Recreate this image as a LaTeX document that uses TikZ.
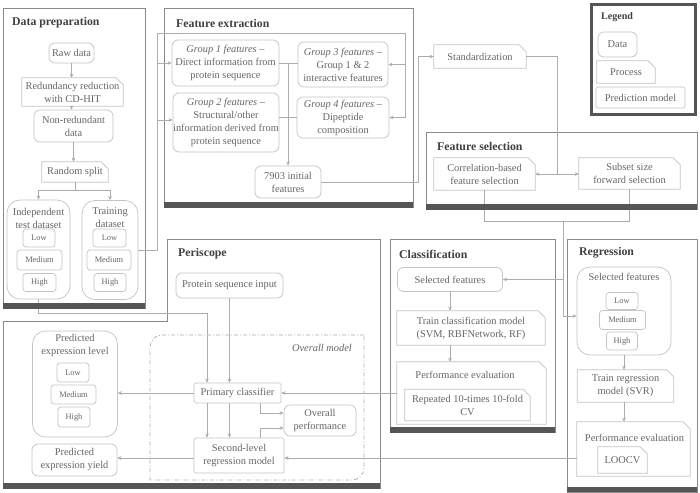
\documentclass[tikz,border=0pt]{standalone}
\usepackage{fontspec}
\setmainfont{Liberation Serif}
\usetikzlibrary{arrows.meta}
\definecolor{txtc}{HTML}{666666}
\definecolor{titc}{HTML}{404040}
\definecolor{boxc}{HTML}{C4C4C4}
\definecolor{conc}{HTML}{ADADAD}
\definecolor{panc}{HTML}{8A8A8A}
\definecolor{barc}{HTML}{555555}
\newcommand\fBody{\fontsize{10.4}{13}\selectfont}
\newcommand\fSmall{\fontsize{8.4}{10}\selectfont}
\newcommand\fTitle{\fontsize{11.8}{14}\selectfont\bfseries}
\newcommand\fLeg{\fontsize{10}{12}\selectfont\bfseries}
\begin{document}
\begin{tikzpicture}[x=1pt,y=-1pt,
  base/.style={align=center, text=txtc, font=\fBody, inner sep=0pt},
  data/.style={base, draw=boxc, line width=0.7pt, rounded corners=6pt},
  big/.style={base, draw=boxc, line width=0.7pt, rounded corners=13pt},
  small/.style={base, draw=boxc, line width=0.7pt, rounded corners=3pt, font=\fSmall},
  pred/.style={base, draw=boxc, line width=0.7pt, rounded corners=1.5pt},
  proc/.style={base, append after command={\pgfextra{\draw[draw=boxc, line width=0.7pt] (\tikzlastnode.south west) -- (\tikzlastnode.north west) -- ([xshift=-7pt]\tikzlastnode.north east) -- ([yshift=-7pt]\tikzlastnode.north east) -- (\tikzlastnode.south east) -- cycle;}}},
  lbl/.style={align=center, text=txtc, font=\fBody, inner sep=0pt},
  ptitle/.style={anchor=west, text=titc, font=\fTitle, inner sep=0pt},
  panel/.style={draw=panc, fill=white, line width=0.7pt},
  bar/.style={fill=barc, draw=none},
  conn/.style={draw=conc, line width=0.7pt},
  arr/.style={conn, -{Stealth[length=4pt,width=3.6pt,inset=1.2pt]}},
]
\useasboundingbox (0,0) rectangle (700,492);

% ---------- panels ----------
\draw[panel] (3,8) rectangle (145,308);
\draw[panel] (164,8) rectangle (413,207);
\draw[panel] (426,132) rectangle (697,209);
\draw[panel] (390,239) rectangle (555,432);
\draw[panel] (567,239) rectangle (697,492);
\draw[panel] (167,239) -- (380,239) -- (380,488) -- (3,488) -- (3,321) -- (167,321) -- cycle;
\draw[draw=barc, line width=3pt, fill=white] (591.5,4.5) rectangle (695.5,114);

\node[ptitle] (t1) at (12,23) {Data preparation};
\node[ptitle] (t2) at (176,23) {Feature extraction};
\node[ptitle] (t3) at (437,146) {Feature selection};
\node[ptitle] (t4) at (178,254) {Periscope};
\node[ptitle] (t5) at (399,254) {Classification};
\node[ptitle] (t6) at (579,253) {Regression};
\node[anchor=west, text=titc, font=\fLeg, inner sep=0pt] (t7) at (601,17) {Legend};

% ---------- overall model region ----------
\draw[draw=conc, line width=0.7pt, dash pattern=on 4pt off 2pt on 1pt off 2pt]
  (364,335) -- (162,335) .. controls (155.4,335) and (150,340.4) .. (150,347)
  -- (150,480) -- (352,480) .. controls (358.6,480) and (364,474.6) .. (364,468) -- cycle;
\node[anchor=east, font=\fBody\itshape, text=txtc, inner sep=0pt] (omt) at (352,348) {Overall model};

% ---------- data preparation ----------
\node[data, minimum width=45pt, minimum height=20pt] (raw) at (71.5,53) {Raw data};
\node[proc, minimum width=101pt, minimum height=28pt] (red) at (72.5,92) {Redundancy reduction\\with CD-HIT};
\node[data, minimum width=79pt, minimum height=32pt] (nonred) at (73.5,126) {Non-redundant\\data};
\node[proc, minimum width=66pt, minimum height=20pt] (split) at (75,172) {Random split};
\node[big, minimum width=63pt, minimum height=99pt] (ind) at (38.5,249.5) {};
\node[lbl] (indt) at (38.5,218) {Independent\\test dataset};
\node[small, minimum width=32pt, minimum height=18pt] (il) at (39,238) {Low};
\node[small, minimum width=45pt, minimum height=20pt] (im) at (39.5,260) {Medium};
\node[small, minimum width=33pt, minimum height=18pt] (ih) at (39.5,282.5) {High};
\node[big, minimum width=56pt, minimum height=99pt] (train) at (110,250) {};
\node[lbl] (traint) at (110,218) {Training\\dataset};
\node[small, minimum width=33pt, minimum height=18pt] (tl) at (109.5,238) {Low};
\node[small, minimum width=44pt, minimum height=20pt] (tm) at (109,260) {Medium};
\node[small, minimum width=32pt, minimum height=18pt] (th) at (110,282.5) {High};

% ---------- feature extraction ----------
\node[data, minimum width=107pt, minimum height=46pt] (g1) at (225.5,63) {\textit{Group 1 features} --\\Direct information from\\protein sequence};
\node[data, minimum width=90pt, minimum height=45pt] (g3) at (343,64.5) {\textit{Group 3 features} --\\Group 1 \& 2\\interactive features};
\node[data, minimum width=106pt, minimum height=59pt] (g2) at (226,122.5) {\textit{Group 2 features} --\\Structural/other\\information derived from\\protein sequence};
\node[data, minimum width=92pt, minimum height=41pt] (g4) at (343,117.5) {\textit{Group 4 features} --\\Dipeptide\\composition};
\node[data, minimum width=66pt, minimum height=32pt] (init) at (288,182) {7903 initial\\features};

% ---------- standardization / selection ----------
\node[proc, minimum width=92pt, minimum height=23pt] (stand) at (480,56.5) {Standardization};
\node[proc, minimum width=101pt, minimum height=32pt] (corr) at (484.5,174) {Correlation-based\\feature selection};
\node[proc, minimum width=101pt, minimum height=31pt] (subset) at (629.5,173.5) {Subset size\\forward selection};

% ---------- legend ----------
\node[data, minimum width=39pt, minimum height=25pt] (lgd) at (617.5,44.5) {Data};
\node[proc, minimum width=58pt, minimum height=22pt] (lgp) at (626,72) {Process};
\node[pred, minimum width=89pt, minimum height=21pt] (lgm) at (640.5,97.5) {Prediction model};

% ---------- classification ----------
\node[data, minimum width=105pt, minimum height=24pt] (csel) at (450,279.5) {Selected features};
\node[proc, minimum width=148pt, minimum height=34pt] (ctrain) at (471,328) {Train classification model\\(SVM, RBFNetwork, RF)};
\node[proc, minimum width=149pt, minimum height=62pt] (cperf) at (471.5,393) {};
\node[lbl] (cperft) at (465,375) {Performance evaluation};
\node[proc, minimum width=125pt, minimum height=31pt] (crep) at (467.5,405) {Repeated 10-times 10-fold\\CV};

% ---------- regression ----------
\node[big, minimum width=94pt, minimum height=88pt] (rsel) at (624,311) {};
\node[lbl] (rselt) at (624,277) {Selected features};
\node[small, minimum width=32pt, minimum height=17pt] (rl) at (622,301) {Low};
\node[small, minimum width=46pt, minimum height=19pt] (rm) at (622.5,320) {Medium};
\node[small, minimum width=31pt, minimum height=18pt] (rh) at (622,341) {High};
\node[proc, minimum width=96pt, minimum height=32pt] (rtrain) at (625.5,386) {Train regression\\model (SVR)};
\node[proc, minimum width=113pt, minimum height=54pt] (rperf) at (633.5,449) {};
\node[lbl] (rperft) at (634.5,438) {Performance evaluation};
\node[proc, minimum width=49pt, minimum height=26pt] (loocv) at (622.5,460) {LOOCV};

% ---------- periscope ----------
\node[data, minimum width=107pt, minimum height=25pt] (psi) at (229.5,285.5) {Protein sequence input};
\node[pred, minimum width=87pt, minimum height=20pt] (prim) at (237.5,393) {Primary classifier};
\node[data, minimum width=72pt, minimum height=31pt] (ovp) at (320,420.5) {Overall\\performance};
\node[pred, minimum width=90pt, minimum height=35pt] (sec) at (239,455.5) {Second-level\\regression model};
\node[big, minimum width=85pt, minimum height=106pt] (plev) at (75,384) {};
\node[lbl] (plevt) at (75,345.5) {Predicted\\expression level};
\node[small, minimum width=32pt, minimum height=19pt] (pl) at (73,372.5) {Low};
\node[small, minimum width=45pt, minimum height=19pt] (pm) at (73.5,394.5) {Medium};
\node[small, minimum width=32pt, minimum height=20pt] (ph) at (74,417) {High};
\node[data, minimum width=85pt, minimum height=32pt] (pyield) at (74.5,460) {Predicted\\expression yield};

% ---------- helper coordinates ----------
\coordinate (y190) at (0,190);
\coordinate (fx) at (157,33);
\coordinate (fr) at (405,33);
\coordinate (vx) at (288,0);
\coordinate (sx) at (418,0);
\coordinate (cx) at (557,0);
\coordinate (y221) at (0,221);
\coordinate (mx) at (563,0);
\coordinate (m316) at (563,316);
\coordinate (y313) at (0,313);
\coordinate (px1) at (207,0);
\coordinate (ox) at (260,0);
\coordinate (y413) at (0,413);
\coordinate (y428) at (0,428);

% ---------- connectors ----------
\draw[arr] (raw.south) -- (red.north -| raw.south);
\draw[arr] (red.south -| raw.south) -- (nonred.north -| raw.south);
\draw[arr] (nonred.south) -- (split.north -| nonred.south);
\draw[conn] (split.south) -- (split.south |- y190);
\draw[conn] (ind.north |- y190) -- (train.north |- y190);
\draw[arr] (ind.north |- y190) -- (ind.north);
\draw[arr] (train.north |- y190) -- (train.north);

\draw[conn] (train.east) -- (train.east -| fx) -- (fx) -- (fr) -- (fr |- g4.east);
\draw[arr] (fx |- g1.west) -- (g1.west);
\draw[arr] (fx |- 0,120) -- (g2.west |- 0,120);
\draw[arr] (fr |- g3.east) -- (g3.east);
\draw[arr] (fr |- g4.east) -- (g4.east);
\draw[conn] (g1.east) -- (g1.east -| g3.west);
\draw[conn] (g2.east |- g4.west) -- (g4.west);
\draw[arr] (vx |- g1.east) -- (init.north);

\draw[arr] (init.east) -- (init.east -| sx) -- (sx |- stand.west) -- (stand.west);
\draw[conn] (stand.east) -- (stand.east -| cx) -- (cx |- corr.east);
\draw[arr] (cx |- corr.east) -- (corr.east);
\draw[arr] (cx |- corr.east) -- (corr.east -| subset.west);
\draw[conn] (corr.south) -- (corr.south |- y221) -- (subset.south |- y221) -- (subset.south);
\draw[arr] (mx |- y221) -- (m316) -- (m316 -| rsel.west);
\draw[arr] (mx |- csel.east) -- (csel.east);

\draw[arr] (csel.south) -- (csel.south |- ctrain.north);
\draw[arr] (csel.south |- ctrain.south) -- (csel.south |- cperf.north);
\draw[arr] (cperf.west |- prim.east) -- (prim.east);

\draw[arr] (rsel.south) -- (rsel.south |- rtrain.north);
\draw[arr] (rsel.south |- rtrain.south) -- (rsel.south |- rperf.north);
\draw[arr] (rperf.west |- 0,458) -- (sec.east |- 0,458);

\draw[arr] (ind.south) -- (ind.south |- y313) -- (px1 |- y313) -- (px1 |- prim.north);
\draw[arr] (psi.south) -- (psi.south |- prim.north);
\draw[arr] (prim.west) -- (prim.west -| plev.east);
\draw[arr] (px1 |- prim.south) -- (px1 |- sec.north);
\draw[arr] (psi.south |- prim.south) -- (psi.south |- sec.north);
\draw[arr] (ox |- prim.south) -- (ox |- y413) -- (ovp.west |- y413);
\draw[arr] (ox |- sec.north) -- (ox |- y428) -- (ovp.west |- y428);
\draw[arr] (sec.west |- 0,458) -- (pyield.east |- 0,458);

% ---------- bottom bars ----------
\fill[barc] (3,303) rectangle (145,308.5);
\fill[barc] (164,202) rectangle (413,207.5);
\fill[barc] (426,204) rectangle (697,209.5);
\fill[barc] (390,427) rectangle (555,432.5);
\fill[barc] (567,487) rectangle (697,492);
\fill[barc] (3,483) rectangle (380,488.5);
\end{tikzpicture}
\end{document}
